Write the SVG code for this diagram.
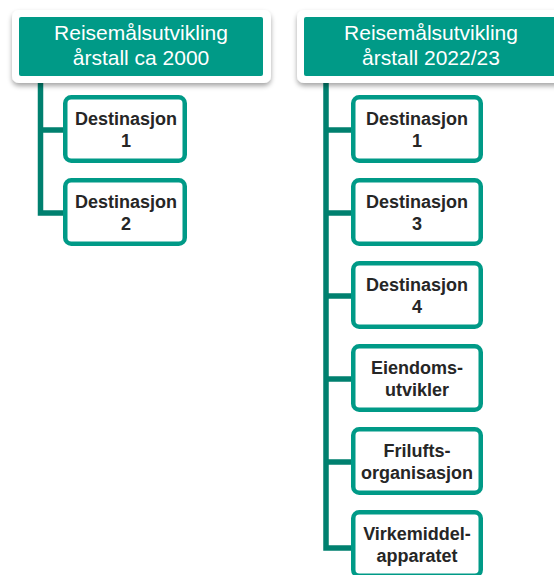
<svg xmlns="http://www.w3.org/2000/svg" width="554" height="575" viewBox="0 0 554 575">
<defs>
<filter id="sh" x="-10%" y="-20%" width="120%" height="150%">
<feDropShadow dx="0" dy="3" stdDeviation="2.5" flood-color="#000" flood-opacity="0.35"/>
</filter>
<style>
.outer{fill:#fff;filter:url(#sh)}
.head{fill:#009A87}
.ht{font-family:"Liberation Sans",Arial,sans-serif;font-size:21px;fill:#fff;text-anchor:middle}
.box{fill:#fff;stroke:#009A87;stroke-width:4.5}
.bt{font-family:"Liberation Sans",Arial,sans-serif;font-weight:bold;font-size:18px;fill:#262626;text-anchor:middle}
.con{fill:none;stroke:#00806F;stroke-width:5.5;stroke-linejoin:miter}
</style>
</defs>
<g id="connectors">
<path class="con" d="M40.5,80 V213 H63 M40.5,130 H63"/>
<path class="con" d="M326,80 V548 H351 M326,130 H351 M326,213 H351 M326,296 H351 M326,379 H351 M326,462 H351"/>
</g>
<g id="header-2000">
<rect class="outer" x="12" y="10" width="259" height="73" rx="7"/>
<rect class="head" x="19" y="17" width="244" height="59" rx="2"/>
<text class="ht" x="141" y="40">Reisemålsutvikling</text>
<text class="ht" x="141" y="65">årstall ca 2000</text>
</g>
<g id="header-2022">
<rect class="outer" x="297" y="10" width="268" height="73" rx="7"/>
<rect class="head" x="304" y="17" width="254" height="59" rx="2"/>
<text class="ht" x="431" y="40">Reisemålsutvikling</text>
<text class="ht" x="431" y="65">årstall 2022/23</text>
</g>
<g id="l-dest1">
<rect class="box" x="65.25" y="97.25" width="119.5" height="63.5" rx="6"/>
<text class="bt" x="126" y="125">Destinasjon</text>
<text class="bt" x="126" y="147">1</text>
</g>
<g id="l-dest2">
<rect class="box" x="65.25" y="180.25" width="119.5" height="63.5" rx="6"/>
<text class="bt" x="126" y="208">Destinasjon</text>
<text class="bt" x="126" y="230">2</text>
</g>
<g id="r-dest1">
<rect class="box" x="353.25" y="97.25" width="127.5" height="63.5" rx="6"/>
<text class="bt" x="417" y="125">Destinasjon</text>
<text class="bt" x="417" y="147">1</text>
</g>
<g id="r-dest3">
<rect class="box" x="353.25" y="180.25" width="127.5" height="63.5" rx="6"/>
<text class="bt" x="417" y="208">Destinasjon</text>
<text class="bt" x="417" y="230">3</text>
</g>
<g id="r-dest4">
<rect class="box" x="353.25" y="263.25" width="127.5" height="63.5" rx="6"/>
<text class="bt" x="417" y="291">Destinasjon</text>
<text class="bt" x="417" y="313">4</text>
</g>
<g id="r-eiendom">
<rect class="box" x="353.25" y="346.25" width="127.5" height="63.5" rx="6"/>
<text class="bt" x="417" y="374">Eiendoms-</text>
<text class="bt" x="417" y="396">utvikler</text>
</g>
<g id="r-frilufts">
<rect class="box" x="353.25" y="429.25" width="127.5" height="63.5" rx="6"/>
<text class="bt" x="417" y="457">Frilufts-</text>
<text class="bt" x="417" y="479">organisasjon</text>
</g>
<g id="r-virkemiddel">
<rect class="box" x="353.25" y="512.25" width="127.5" height="63.5" rx="6"/>
<text class="bt" x="417" y="540">Virkemiddel-</text>
<text class="bt" x="417" y="562">apparatet</text>
</g>
</svg>
